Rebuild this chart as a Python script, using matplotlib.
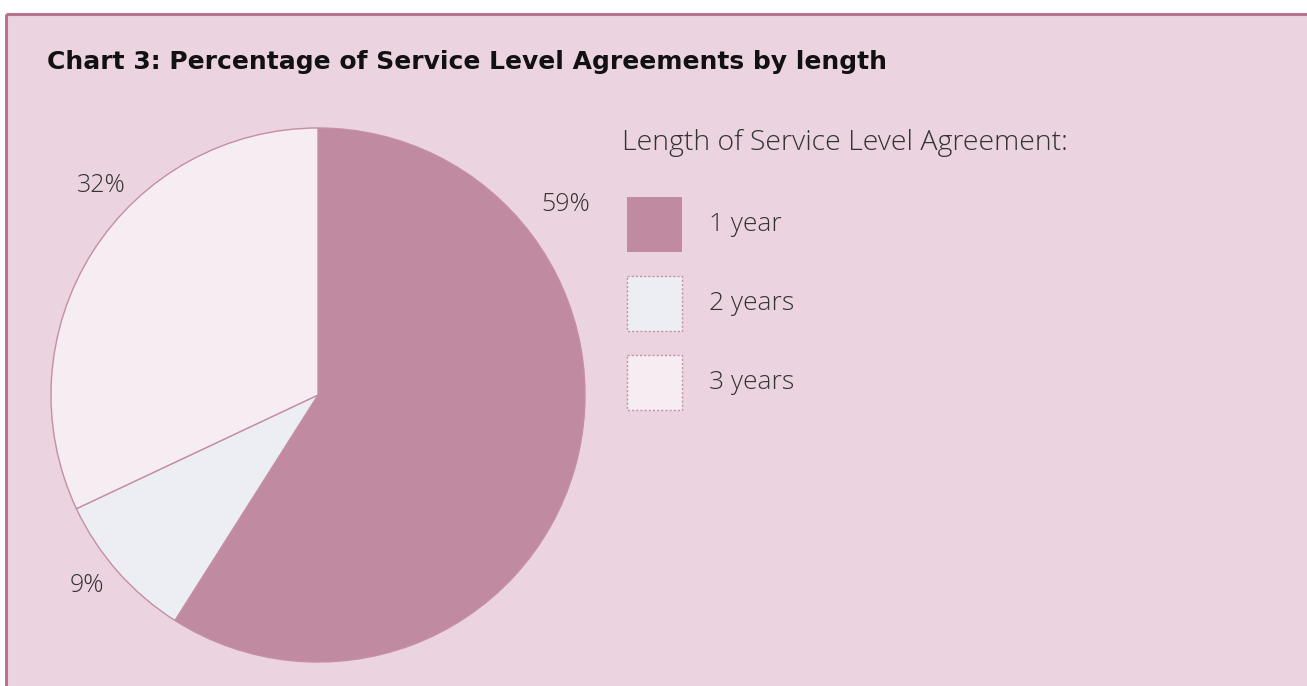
import matplotlib
matplotlib.use("Agg")
import matplotlib.pyplot as plt
from matplotlib.patches import Rectangle
import numpy as np

# Data
categories = ["1 year", "2 years", "3 years"]
shares = [59, 9, 32]
title = "Chart 3: Percentage of Service Level Agreements by length"
legend_title = "Length of Service Level Agreement:"

# Styling
bg_color = "#ebd3df"
frame_color = "#b8738f"
slice_colors = ["#c08aa1", "#eceef3", "#f6edf2"]
edge_color = "#c48ea6"
text_color = "#333333"
light_font = ["Open Sans", "DejaVu Sans"]

W, H = 1307, 686
fig = plt.figure(figsize=(W / 100, H / 100), dpi=100)
fig.patch.set_facecolor("white")

def fx(px):
    return px / W

def fy(py):
    return 1 - py / H

# Background panel with a thin frame on the top and left
bg = fig.add_axes([0, 0, 1, 1], zorder=0)
bg.set_xlim(0, W)
bg.set_ylim(H, 0)
bg.axis("off")
bg.add_patch(Rectangle((6, 14), W, H, facecolor=bg_color, edgecolor="none"))
bg.plot([6, W], [14, 14], color=frame_color, lw=2.2, solid_capstyle="butt")
bg.plot([6, 6], [14, H], color=frame_color, lw=2.2, solid_capstyle="butt")

# Title
bg.text(47, 62, title, fontsize=18, fontweight="bold",
        family=["DejaVu Sans"], color="#111111", va="center", ha="left")

# Pie
cx, cy, r = 318, 395, 267
ax = fig.add_axes([fx(cx - r), fy(cy + r), 2 * r / W, 2 * r / H], zorder=2)
ax.pie(shares, colors=slice_colors, startangle=90, counterclock=False,
       radius=1, wedgeprops=dict(edgecolor=edge_color, linewidth=1.0))
ax.set_xlim(-1, 1)
ax.set_ylim(-1, 1)
ax.axis("off")

# Percentage labels placed around the rim (angle in degrees, radius in pie units)
label_spots = [(37.5, 1.17), (-140.5, 1.12), (136.0, 1.13)]
for share, (ang, rad) in zip(shares, label_spots):
    t = np.deg2rad(ang)
    ax.text(rad * np.cos(t), rad * np.sin(t), f"{share}%", fontsize=18,
            family=light_font, fontweight=300, color=text_color,
            ha="center", va="center", clip_on=False)

# Legend
bg.text(622, 143, legend_title, fontsize=20.5, fontweight=300,
        family=light_font, color=text_color, va="center", ha="left")
box_tops = [197, 276, 355]
box = 55
for i, (cat, col, top) in enumerate(zip(categories, slice_colors, box_tops)):
    bg.add_patch(Rectangle((627, top), box, box, facecolor=col,
                           edgecolor="none" if i == 0 else edge_color,
                           linewidth=1.0, linestyle=(0, (1.5, 1.5)), zorder=2))
    bg.text(709, top + box / 2, cat, fontsize=19, fontweight=300,
            family=light_font, color=text_color, va="center", ha="left")

fig.savefig("out.png", dpi=100, facecolor=fig.get_facecolor())
